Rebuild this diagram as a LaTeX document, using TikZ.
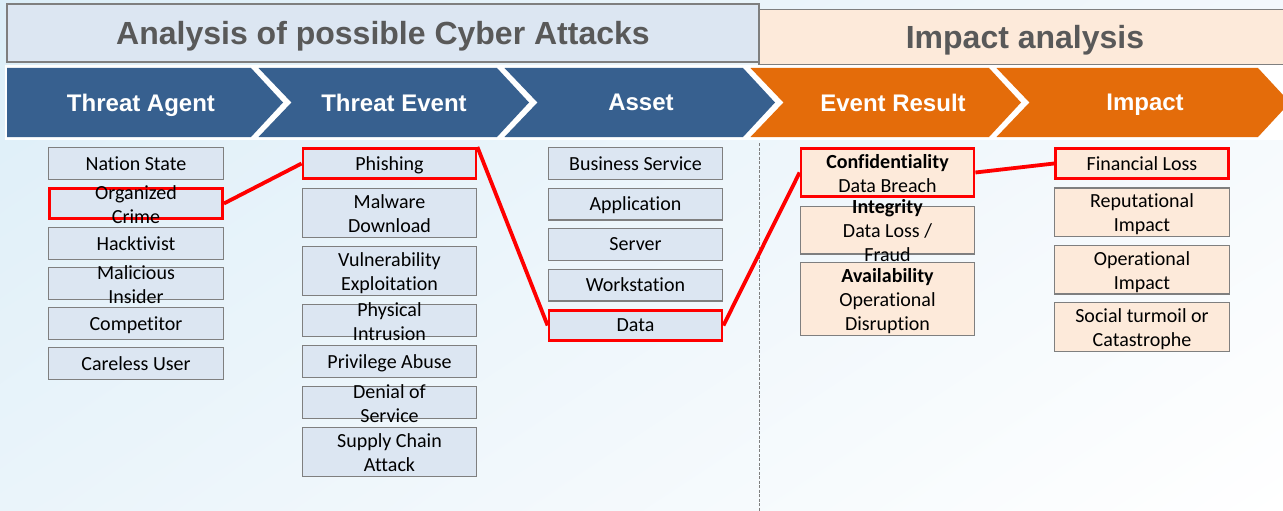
\documentclass[tikz,border=0pt]{standalone}
\usepackage{fontspec}
\setmainfont{Carlito}[Ligatures=NoCommon]
\newfontfamily\arialfont{Liberation Sans}
\usetikzlibrary{positioning,shadings}

\definecolor{bgblue}{HTML}{DCEEF8}
\definecolor{bgleft}{HTML}{EAF4FA}
\definecolor{bgright}{HTML}{F3F8FC}
\definecolor{cellblue}{HTML}{DCE6F2}
\definecolor{cellpeach}{HTML}{FDEADA}
\definecolor{boxline}{HTML}{7F7F7F}
\definecolor{headtext}{HTML}{595959}
\definecolor{chevblue}{HTML}{37608F}
\definecolor{chevorange}{HTML}{E46C0A}
\definecolor{hired}{HTML}{FF0000}

% two or three lines, centred and allowed to run over the box
\newcommand{\twoline}[1]{\smash{\raisebox{-0.4em}{\begin{tabular}{@{}c@{}}#1\end{tabular}}}}

\begin{document}
\begin{tikzpicture}[x=1pt, y=-1pt,
  node distance=7.5pt,
  cellbox/.style={draw=boxline, line width=1.3pt, fill=cellblue, minimum width=174.5pt, minimum height=31.7pt, inner sep=0pt, text depth=0pt, font=\fontsize{20}{24}\selectfont},
  tallbox/.style={cellbox, minimum height=48.7pt},
  peachbox/.style={cellbox, fill=cellpeach},
  pickbox/.style={draw=hired, line width=2.8pt, minimum width=173pt, minimum height=30.2pt},
  redlink/.style={draw=hired, line width=3.8pt},
  headbox/.style={draw=boxline, line width=1.8pt, inner sep=0pt, text depth=0pt, text=headtext, font=\arialfont\bfseries\fontsize{32}{36}\selectfont},
  chevtext/.style={text=white, text depth=0pt, font=\arialfont\bfseries\fontsize{24}{28}\selectfont}
]
\useasboundingbox (0,0) rectangle (1283,511);
\shade[upper left=bgblue, upper right=bgright, lower left=bgleft, lower right=white] (0,0) rectangle (1283,511);

% headers
\node[headbox, fill=cellblue, minimum width=752pt, minimum height=58pt] (cyberhead) at (383,33) {Analysis of possible Cyber Attacks};
\node[headbox, fill=cellpeach, minimum width=532pt, minimum height=55pt] (impacthead) at (1025,37) {Impact analysis};

% chevron band
\fill[white] (5,65) rectangle (1290,140);
\foreach \i/\lbl/\tx/\col/\rx [remember=\rx as \prx (initially 0)] in {0/Threat Agent/141/chevblue/251, 1/Threat Event/394/chevblue/497, 2/Asset/641/chevblue/743, 3/Event Result/893/chevorange/989, 4/Impact/1145/chevorange/1258}{
  \pgfmathsetmacro\lx{\i==0 ? 7 : \prx+7.5}
  \pgfmathsetmacro\nx{\i==0 ? 7 : \prx+40.5}
  \fill[\col] (\lx,68) -- (\rx,68) -- (\rx+32,102.5) -- (\rx,137) -- (\lx,137) -- (\nx,102.5) -- cycle;
  \node[chevtext] (chev\i) at (\tx,102.5) {\lbl};
}

\draw[boxline, line width=0.9pt, dash pattern=on 3pt off 1.5pt] (759,143) -- (759,511);

% threat agents
\begin{scope}[node distance=7pt]
\node[cellbox, anchor=north] (nation) at (136,147) {Nation State};
\node[cellbox, pickbox, below=of nation] (crime) {\twoline{Organized\\Crime}};
\node[cellbox, below=of crime] (hacktivist) {Hacktivist};
\node[cellbox, below=of hacktivist] (insider) {\twoline{Malicious\\Insider}};
\node[cellbox, below=of insider] (competitor) {Competitor};
\node[cellbox, below=of competitor] (careless) {Careless User};
\end{scope}

% threat events
\begin{scope}[node distance=8pt]
\node[cellbox, pickbox, anchor=north] (phishing) at (389.5,147) {Phishing};
\node[tallbox, below=of phishing] (malware) {\twoline{Malware\\Download}};
\node[tallbox, below=of malware] (vuln) {\twoline{Vulnerability\\Exploitation}};
\node[cellbox, below=of vuln] (intrusion) {\twoline{Physical\\Intrusion}};
\node[cellbox, below=of intrusion] (privilege) {Privilege Abuse};
\node[cellbox, below=of privilege] (dos) {\twoline{Denial of\\Service}};
\node[tallbox, below=of dos] (supply) {\twoline{Supply Chain\\Attack}};
\end{scope}

% assets
\node[cellbox, anchor=north] (business) at (635.5,147) {Business Service};
\node[cellbox, below=of business] (application) {Application};
\node[cellbox, below=of application] (server) {Server};
\node[cellbox, below=of server] (workstation) {Workstation};
\node[cellbox, pickbox, below=of workstation] (data) {Data};

% event results
\node[peachbox, pickbox, minimum height=48.2pt, anchor=north] (conf) at (887.5,147) {\twoline{\textbf{Confidentiality}\\Data Breach}};
\node[peachbox, minimum height=47.7pt, below=of conf] (integrity) {\twoline{\textbf{Integrity}\\Data Loss /\\Fraud}};
\node[peachbox, minimum height=72.7pt, below=of integrity] (avail) {\twoline{\textbf{Availability}\\Operational\\Disruption}};

% impacts
\begin{scope}[node distance=7.3pt]
\node[peachbox, pickbox, anchor=north] (financial) at (1142,147) {Financial Loss};
\node[peachbox, minimum height=48.7pt, below=of financial] (reputation) {\twoline{Reputational\\Impact}};
\node[peachbox, minimum height=48.7pt, below=of reputation] (operational) {\twoline{Operational\\Impact}};
\node[peachbox, minimum height=48.7pt, below=of operational] (social) {\twoline{Social turmoil or\\Catastrophe}};
\end{scope}

% attack path
\draw[redlink] (crime.east) -- (phishing.west);
\draw[redlink] (phishing.north east) -- (data.west);
\draw[redlink] (data.east) -- (conf.west);
\draw[redlink] (conf.east) -- (financial.west);
\end{tikzpicture}
\end{document}
